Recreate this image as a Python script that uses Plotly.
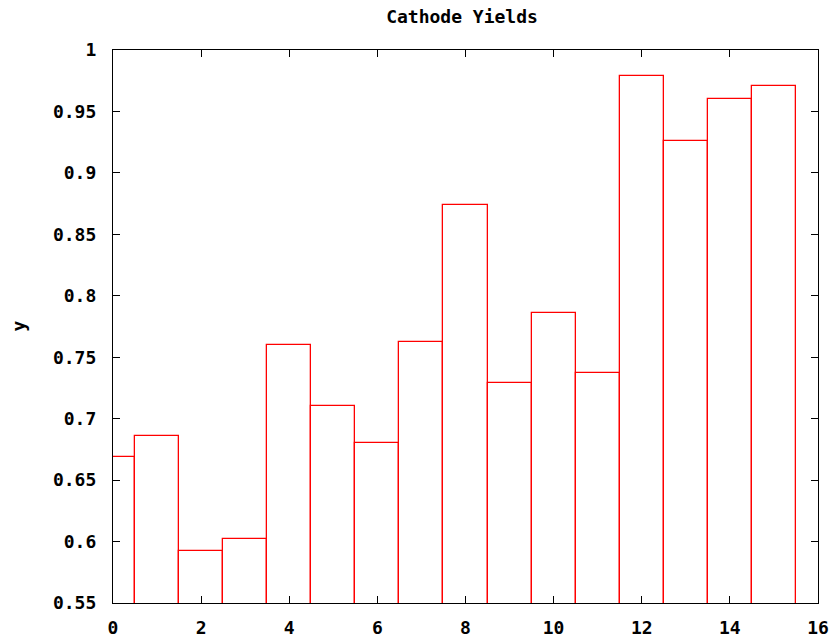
import plotly.graph_objects as go

x_vals = list(range(16))
yields = [0.669, 0.686, 0.592, 0.602, 0.760, 0.710, 0.680, 0.762,
          0.874, 0.729, 0.786, 0.737, 0.979, 0.926, 0.960, 0.971]

x_ticks = [0, 2, 4, 6, 8, 10, 12, 14, 16]
y_ticks = [0.55, 0.6, 0.65, 0.7, 0.75, 0.8, 0.85, 0.9, 0.95, 1.0]
y_tick_text = ["0.55", "0.6", "0.65", "0.7", "0.75", "0.8", "0.85", "0.9", "0.95", "1"]

FONT = dict(family="DejaVu Sans Mono", size=18, color="black", weight="bold")

fig = go.Figure()
fig.add_trace(go.Bar(
    x=x_vals, y=yields, width=1.0,
    marker=dict(color="rgba(0,0,0,0)", line=dict(color="#ff0000", width=1.3)),
    showlegend=False,
))

W, H = 837, 637
L, R, T, B = 113, 19, 50, 34

fig.update_layout(
    width=W, height=H,
    margin=dict(l=L, r=R, t=T, b=B, autoexpand=False),
    paper_bgcolor="white", plot_bgcolor="white",
    font=FONT,
    bargap=0,
    title=dict(text="Cathode Yields", font=FONT, xref="container", yref="container",
               x=462 / W, y=1 - 17 / H, xanchor="center", yanchor="middle"),
    xaxis=dict(range=[0, 16], tickvals=x_ticks, ticks="inside", ticklen=7, tickwidth=1.3,
               tickcolor="black", showline=True, linecolor="black", linewidth=1.3,
               mirror="ticks", showgrid=False, zeroline=False, tickfont=FONT,
               ticklabelstandoff=8, automargin=False),
    yaxis=dict(range=[0.55, 1.0], tickvals=y_ticks, ticktext=y_tick_text, ticks="inside",
               ticklen=7, tickwidth=1.3, tickcolor="black", showline=True, linecolor="black",
               linewidth=1.3, mirror="ticks", showgrid=False, zeroline=False, tickfont=FONT,
               ticklabelstandoff=12, automargin=False),
    annotations=[dict(text="y", xref="paper", yref="paper", x=(18 - L) / (W - L - R),
                      y=0.5, xanchor="center", yanchor="middle", textangle=-90,
                      showarrow=False, font=FONT)],
)

fig.write_html("out.html")
